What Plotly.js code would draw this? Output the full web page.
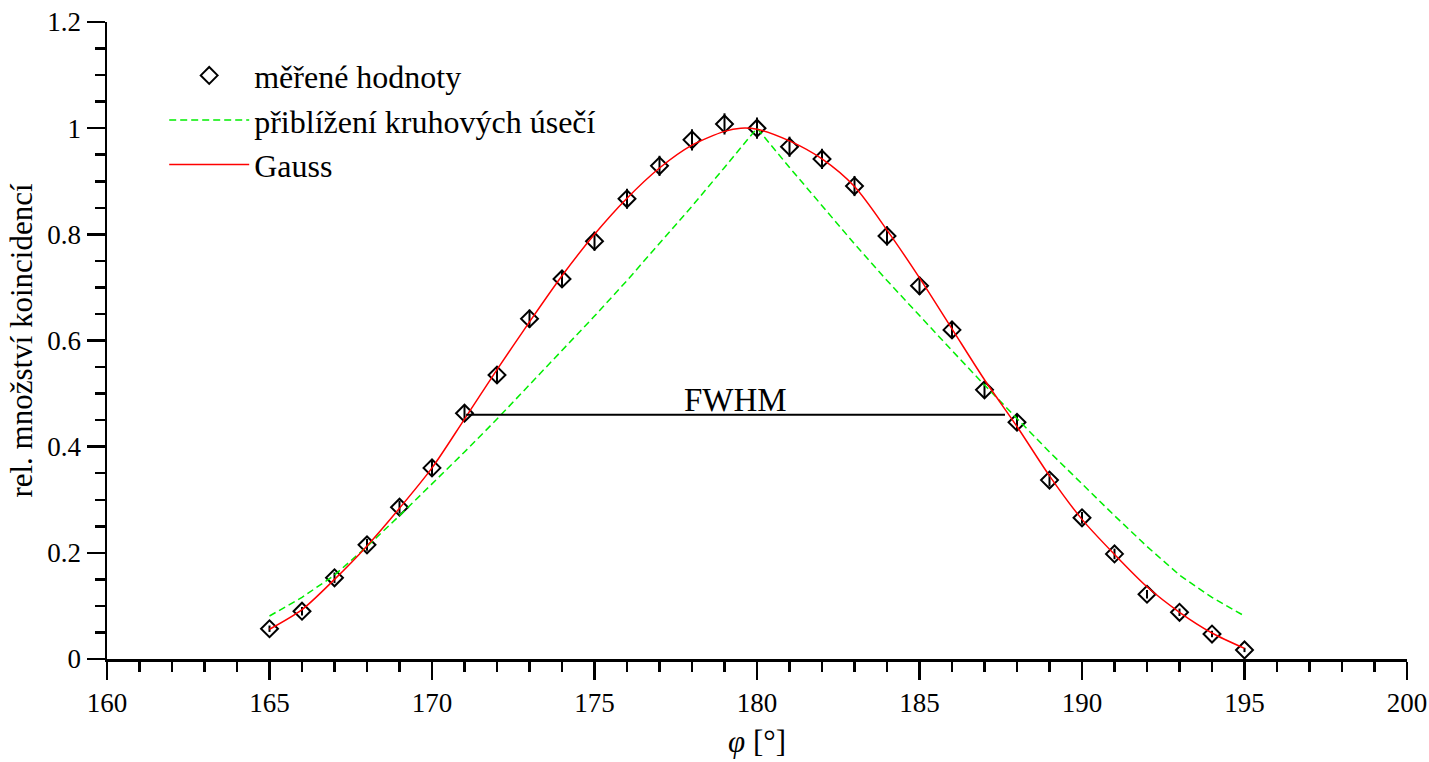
<!DOCTYPE html>
<html>
<head>
<meta charset="utf-8">
<script src="https://cdn.plot.ly/plotly-3.0.1.min.js"></script>
<style>html,body{margin:0;padding:0;background:#fff;}#chart{width:1429px;height:762px;}</style>
</head>
<body>
<div id="chart"></div>
<script>
// measured points
const angles = [165,166,167,168,169,170,171,172,173,174,175,176,177,178,179,180,181,182,183,184,185,186,187,188,189,190,191,192,193,194,195];
const measured = [0.057,0.090,0.153,0.215,0.286,0.360,0.463,0.535,0.641,0.716,0.787,0.867,0.929,0.978,1.008,1.000,0.965,0.942,0.891,0.797,0.703,0.620,0.507,0.446,0.337,0.266,0.198,0.122,0.088,0.047,0.017];
const measuredErr = [0.006,0.008,0.010,0.011,0.012,0.014,0.015,0.016,0.017,0.017,0.018,0.019,0.019,0.020,0.020,0.020,0.019,0.019,0.019,0.018,0.017,0.016,0.015,0.014,0.012,0.011,0.010,0.008,0.007,0.006,0.004];

// circular-segment approximation (green dashed)
const segX = [165,166,167,168,169,170,171,172,173,174,175,176,177,178,179,180,181,182,183,184,185,186,187,188,189,190,191,192,193,194,195];
const segY = [0.081,0.116,0.158,0.212,0.270,0.330,0.390,0.452,0.516,0.581,0.646,0.713,0.782,0.853,0.926,1.000,0.926,0.853,0.782,0.713,0.646,0.581,0.516,0.452,0.390,0.330,0.270,0.212,0.158,0.116,0.081];

// Gauss fit (red)
const gaussX = [165,166,167,168,169,170,171,172,173,174,175,176,177,178,179,179.5,180,181,182,183,184,185,186,187,188,189,190,191,192,193,194,195];
const gaussY = [0.056,0.093,0.150,0.213,0.284,0.360,0.452,0.545,0.635,0.722,0.800,0.868,0.925,0.968,0.994,1.000,0.998,0.976,0.942,0.890,0.808,0.718,0.622,0.526,0.438,0.345,0.263,0.197,0.136,0.088,0.049,0.020];

// FWHM marker
const fwhmX = [171.05, 187.63];
const fwhmY = [0.46, 0.46];
const fwhmLabel = 'FWHM';

const legendNames = ['měřené hodnoty', 'přiblížení kruhových úsečí', 'Gauss'];
const xTitle = '<i>φ</i> [°]';
const yTitle = 'rel. množství koincidencí';

const FONT = '"Liberation Serif", "Times New Roman", serif';

const traces = [
  {
    x: angles, y: measured, type: 'scatter', mode: 'markers', name: legendNames[0],
    legendgroup: 'a',
    marker: {symbol: 'diamond-open', size: 13, color: '#000', line: {width: 2, color: '#000'}},
    error_y: {type: 'data', array: measuredErr, visible: true, color: '#000', thickness: 2, width: 0}
  },
  {
    x: segX, y: segY, type: 'scatter', mode: 'lines', name: legendNames[1],
    legendgroup: 'b',
    line: {color: '#00ee00', width: 1.5, dash: '7px,4px'}
  },
  {
    x: gaussX, y: gaussY, type: 'scatter', mode: 'lines', name: legendNames[2],
    legendgroup: 'c',
    line: {color: '#ff0000', width: 1.5, shape: 'spline', smoothing: 0.8}
  },
  {
    x: fwhmX, y: fwhmY, type: 'scatter', mode: 'lines', showlegend: false,
    line: {color: '#000', width: 2}, hoverinfo: 'skip'
  }
];

const layout = {
  width: 1429, height: 762,
  margin: {l: 107, r: 22, t: 22, b: 103},
  paper_bgcolor: '#fff', plot_bgcolor: '#fff',
  font: {family: FONT, size: 27, color: '#000'},
  showlegend: true,
  legend: {
    x: 0.044, y: 0.959, xanchor: 'left', yanchor: 'top',
    bgcolor: 'rgba(0,0,0,0)', borderwidth: 0,
    font: {family: FONT, size: 32, color: '#000'},
    tracegroupgap: 2, traceorder: 'normal', itemwidth: 80
  },
  xaxis: {
    range: [160, 200], dtick: 5, tick0: 160,
    showgrid: false, zeroline: false,
    showline: true, linecolor: '#000', linewidth: 2.5,
    ticks: 'outside', ticklen: 18, tickwidth: 2.5, tickcolor: '#000',
    minor: {dtick: 1, ticks: 'outside', ticklen: 10, tickwidth: 2.5, tickcolor: '#000', showgrid: false},
    tickfont: {family: FONT, size: 27},
    title: {text: xTitle, font: {family: FONT, size: 31}, standoff: 14}
  },
  yaxis: {
    range: [0, 1.2], dtick: 0.2, tick0: 0,
    showgrid: false, zeroline: false,
    showline: true, linecolor: '#000', linewidth: 2.5,
    ticks: 'outside', ticklen: 18, tickwidth: 2.5, tickcolor: '#000',
    minor: {dtick: 0.05, ticks: 'outside', ticklen: 10, tickwidth: 2.5, tickcolor: '#000', showgrid: false},
    tickfont: {family: FONT, size: 27},
    title: {text: yTitle, font: {family: FONT, size: 31}, standoff: 6}
  },
  annotations: [
    {x: (fwhmX[0] + fwhmX[1]) / 2, y: fwhmY[0], xref: 'x', yref: 'y', text: fwhmLabel,
     showarrow: false, xanchor: 'center', yanchor: 'bottom', yshift: -5,
     font: {family: FONT, size: 33, color: '#000'}}
  ]
};

Plotly.newPlot('chart', traces, layout, {displayModeBar: false, staticPlot: true});
</script>
</body>
</html>
